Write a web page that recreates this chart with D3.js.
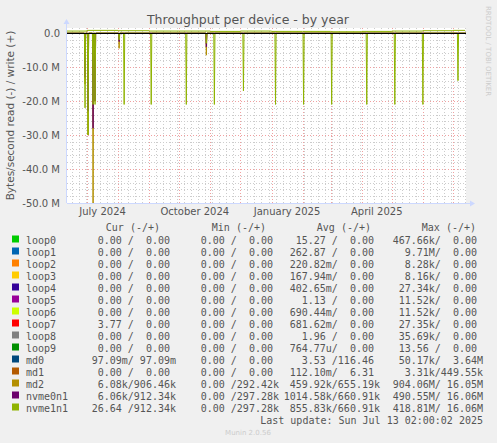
<!DOCTYPE html>
<html><head><meta charset="utf-8">
<script src="https://cdn.jsdelivr.net/npm/d3@7"></script>
<style>
body{margin:0;background:#f0f0f0}
svg text{white-space:pre}
</style></head>
<body><div id="chart"></div>
<script>
const W = 497, H = 443;
const margin = { top: 28, right: 31, bottom: 240, left: 67 };

// read spikes (negative = read), date and value in bytes/s
const spikeDates = ["2024-06-29","2024-07-02","2024-07-07","2024-07-09","2024-08-02","2024-08-07","2024-09-03","2024-10-08",
  "2024-10-28","2024-11-05","2024-12-04","2025-01-05","2025-02-02","2025-03-02","2025-04-06","2025-05-04","2025-06-01","2025-07-06"];
const nvme1n1Read = [-22e6,-30e6,-21e6,-21e6,-2e6,-21e6,-21e6,-21e6,-3e6,-21e6,-17e6,-21e6,-21e6,-21e6,-21e6,-21e6,-21e6,-14e6];
const nvme0n1Read = [-13e6,-23e6,-28e6,-20e6,-2.5e6,0,0,0,-4e6,0,0,0,0,0,0,0,0,0];
const md2Read     = [-15e6,-30e6,-50e6,-20e6,-4.5e6,0,0,0,-6.5e6,0,0,0,0,0,0,0,0,0];
// write (positive), monthly
const writeDates = ["2024-06-11","2024-07-01","2024-08-01","2024-09-01","2024-10-01","2024-11-01","2024-12-01","2025-01-01",
  "2025-02-01","2025-03-01","2025-04-01","2025-05-01","2025-06-01","2025-07-01","2025-07-13"];
const nvmeWrite = [0.6e6,0.8e6,0.7e6,0.6e6,0.6e6,0.5e6,0.6e6,0.5e6,0.5e6,0.4e6,0.5e6,0.6e6,0.7e6,0.8e6,0.9e6];

const devices = ["loop0","loop1","loop2","loop3","loop4","loop5","loop6","loop7","loop8","loop9","md0","md1","md2","nvme0n1","nvme1n1"];
const colors = ["#00cc00","#0066b3","#ff8000","#ffcc00","#330099","#990099","#ccff00","#ff0000","#808080","#008f00","#00487d","#b35a00","#b38f00","#6b006b","#8fb300"];
const curCol = ["0.00 /  0.00 ","0.00 /  0.00 ","0.00 /  0.00 ","0.00 /  0.00 ","0.00 /  0.00 ","0.00 /  0.00 ","0.00 /  0.00 ","3.77 /  0.00 ","0.00 /  0.00 ","0.00 /  0.00 ","97.09m/ 97.09m","0.00 /  0.00 ","6.08k/906.46k","6.06k/912.34k","26.64 /912.34k"];
const minCol = ["0.00 /  0.00 ","0.00 /  0.00 ","0.00 /  0.00 ","0.00 /  0.00 ","0.00 /  0.00 ","0.00 /  0.00 ","0.00 /  0.00 ","0.00 /  0.00 ","0.00 /  0.00 ","0.00 /  0.00 ","0.00 /  0.00 ","0.00 /  0.00 ","0.00 /292.42k","0.00 /297.28k","0.00 /297.28k"];
const avgCol = ["15.27 /  0.00 ","262.87 /  0.00 ","220.82m/  0.00 ","167.94m/  0.00 ","402.65m/  0.00 ","1.13 /  0.00 ","690.44m/  0.00 ","681.62m/  0.00 ","1.96 /  0.00 ","764.77u/  0.00 ","3.53 /116.46 ","112.10m/  6.31 ","459.92k/655.19k","1014.58k/660.91k","855.83k/660.91k"];
const maxCol = ["467.66k/  0.00 ","9.71M/  0.00 ","8.28k/  0.00 ","8.16k/  0.00 ","27.34k/  0.00 ","11.52k/  0.00 ","11.52k/  0.00 ","27.35k/  0.00 ","35.69k/  0.00 ","13.56 /  0.00 ","50.17k/  3.64M","3.31k/449.55k","904.06M/ 16.05M","490.55M/ 16.06M","418.81M/ 16.06M"];

const parse = d3.utcParse("%Y-%m-%d");
const svg = d3.select("#chart").append("svg").attr("width", W).attr("height", H)
  .style("font-family", "DejaVu Sans");
svg.append("rect").attr("width", W).attr("height", H).attr("fill", "#f0f0f0");

const x = d3.scaleUtc().domain([parse("2024-06-11"), parse("2025-07-14")]).range([margin.left, W - margin.right]);
const y = d3.scaleLinear().domain([-50e6, 1.5e6]).range([H - margin.bottom, margin.top]);
const [x0, x1] = x.range(), [y0, y1] = y.range();

svg.append("rect").attr("x", x0).attr("y", y1).attr("width", x1 - x0).attr("height", y0 - y1).attr("fill", "#fff");

const grid = svg.append("g").attr("stroke-width", 1).attr("stroke-dasharray", "1,2");
d3.range(-50e6, 1e6, 2e6).forEach(v => {
  if (v % 10e6 === 0) return;
  grid.append("line").attr("x1", x0).attr("x2", x1).attr("y1", Math.round(y(v)) + .5).attr("y2", Math.round(y(v)) + .5).attr("stroke", "#ccc");
});
d3.utcWeek.range(x.domain()[0], x.domain()[1]).forEach(d => {
  grid.append("line").attr("y1", y0).attr("y2", y1).attr("x1", Math.round(x(d)) + .5).attr("x2", Math.round(x(d)) + .5).attr("stroke", "#ccc");
});
d3.range(-50e6, 1, 10e6).forEach(v => {
  grid.append("line").attr("x1", x0).attr("x2", x1).attr("y1", Math.round(y(v)) + .5).attr("y2", Math.round(y(v)) + .5).attr("stroke", "#f0a0a0");
});
d3.utcMonth.range(x.domain()[0], x.domain()[1]).forEach(d => {
  grid.append("line").attr("y1", y0).attr("y2", y1).attr("x1", Math.round(x(d)) + .5).attr("x2", Math.round(x(d)) + .5).attr("stroke", "#f0a0a0");
});

// y ticks
d3.range(-50e6, 1, 10e6).forEach(v => {
  svg.append("text").attr("x", 60).attr("y", y(v) + 3.5).attr("text-anchor", "end")
    .attr("font-size", 10).attr("fill", "#555").text(v === 0 ? "0.0" : (v / 1e6).toFixed(1) + " M");
});
// x labels centred on month
[["2024-07-01","July 2024"],["2024-10-01","October 2024"],["2025-01-01","January 2025"],["2025-04-01","April 2025"]].forEach(([d, t]) => {
  const m = parse(d);
  svg.append("text").attr("x", (x(m) + x(d3.utcMonth.offset(m, 1))) / 2).attr("y", y0 + 12)
    .attr("text-anchor", "middle").attr("font-size", 10).attr("fill", "#555").text(t);
});

// series
function spikeSeries(vals) {
  const pts = [{ d: x.domain()[0], v: 0 }];
  spikeDates.forEach((s, i) => {
    const d = parse(s);
    pts.push({ d: d3.utcHour.offset(d, -14), v: 0 }, { d, v: vals[i] }, { d: d3.utcHour.offset(d, 14), v: 0 });
  });
  pts.push({ d: x.domain()[1], v: 0 });
  return pts;
}
const line = d3.line().x(p => x(p.d)).y(p => y(p.v));
const plot = svg.append("g").attr("fill", "none").attr("stroke-width", 1);
plot.append("path").attr("d", line(spikeSeries(md2Read))).attr("stroke", colors[12]);
plot.append("path").attr("d", line(spikeSeries(nvme0n1Read))).attr("stroke", colors[13]);
plot.append("path").attr("d", line(spikeSeries(nvme1n1Read))).attr("stroke", colors[14]);
const wPts = writeDates.map((d, i) => ({ d: parse(d), v: nvmeWrite[i] }));
plot.append("path").attr("d", d3.line().curve(d3.curveStepAfter).x(p => x(p.d)).y(p => y(p.v))(wPts)).attr("stroke", colors[14]);
svg.append("line").attr("x1", x0).attr("x2", x1).attr("y1", Math.round(y(0)) + .5).attr("y2", Math.round(y(0)) + .5).attr("stroke", "#000");

// axes frame
svg.append("line").attr("x1", x0).attr("x2", x1 + 6).attr("y1", y0 + .5).attr("y2", y0 + .5).attr("stroke", "#ccd8ff");
svg.append("line").attr("x1", x0 - .5).attr("x2", x0 - .5).attr("y1", y0).attr("y2", y1 - 6).attr("stroke", "#ccd8ff");
svg.append("path").attr("d", `M${x1 + 9},${y0 + .5}l-5,-3v6z`).attr("fill", "#ccd8ff");
svg.append("path").attr("d", `M${x0 - .5},${y1 - 9}l-3,5h6z`).attr("fill", "#ccd8ff");

// titles
svg.append("text").attr("x", 248).attr("y", 24).attr("text-anchor", "middle").attr("font-size", 12.5).attr("fill", "#555").text("Throughput per device - by year");
svg.append("text").attr("transform", `translate(14,${(y0 + y1) / 2}) rotate(-90)`).attr("text-anchor", "middle")
  .attr("font-size", 10.5).attr("fill", "#555").text("Bytes/second read (-) / write (+)");
svg.append("text").attr("transform", "translate(486,6) rotate(90)").attr("font-size", 7).attr("fill", "#ccc").text("RRDTOOL / TOBI OETIKER");

// legend
const mono = svg.append("g").attr("font-family", "DejaVu Sans Mono").attr("font-size", 10).attr("fill", "#555");
[["Cur (-/+)", 160], ["Min (-/+)", 266], ["Avg (-/+)", 371], ["Max (-/+)", 476]].forEach(([t, xe]) => {
  mono.append("text").attr("x", xe).attr("y", 231).attr("text-anchor", "end").text(t);
});
devices.forEach((name, i) => {
  const yy = 243.5 + i * 12;
  svg.append("rect").attr("x", 12).attr("y", yy - 8).attr("width", 7).attr("height", 7).attr("fill", colors[i]);
  mono.append("text").attr("x", 26).attr("y", yy).text(name);
  mono.append("text").attr("x", 176).attr("y", yy).attr("text-anchor", "end").text(curCol[i]);
  mono.append("text").attr("x", 279).attr("y", yy).attr("text-anchor", "end").text(minCol[i]);
  mono.append("text").attr("x", 380).attr("y", yy).attr("text-anchor", "end").text(avgCol[i]);
  mono.append("text").attr("x", 483).attr("y", yy).attr("text-anchor", "end").text(maxCol[i]);
});
mono.append("text").attr("x", 483).attr("y", 423.5).attr("text-anchor", "end").text("Last update: Sun Jul 13 02:00:02 2025");
svg.append("text").attr("x", 248).attr("y", 435).attr("text-anchor", "middle").attr("font-size", 7).attr("fill", "#ccc").text("Munin 2.0.56");
</script></body></html>
